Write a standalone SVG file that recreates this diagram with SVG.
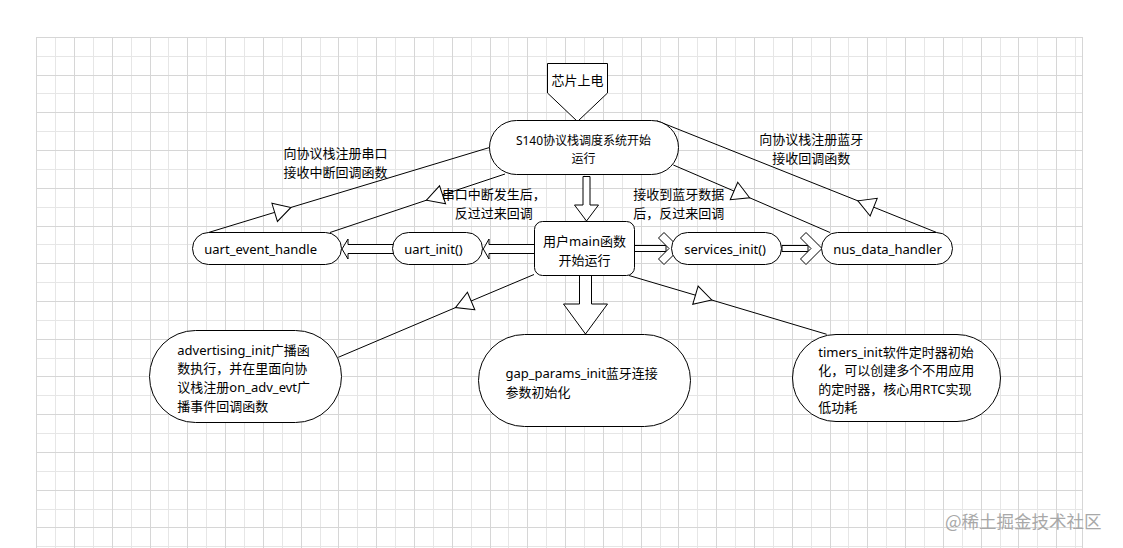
<svg xmlns="http://www.w3.org/2000/svg" width="1123" height="548" viewBox="0 0 1123 548">
<style>
.t{font-family:"Noto Sans","Noto Sans CJK SC",sans-serif;font-size:13px;fill:#000;dominant-baseline:central}
.m{text-anchor:middle}
.n{fill:#fff;stroke:#000;stroke-width:1}
.ln{fill:none;stroke:#000;stroke-width:1;marker-mid:url(#tri)}
.ba{fill:#fff;stroke:#000;stroke-width:1;stroke-linejoin:miter}
</style>
<defs>
<marker id="tri" markerUnits="userSpaceOnUse" markerWidth="24" markerHeight="24" viewBox="-12 -12 24 24" refX="0" refY="0" orient="auto" overflow="visible">
<path d="M-8.5,-9.5 L8.5,0 L-8.5,9.5 Z" fill="#fff" stroke="#000" stroke-width="1"/>
</marker>
</defs>
<rect width="1123" height="548" fill="#fff"/>
<g id="grid" fill="none">
<path stroke="#e6e6e6" d="M55.5 37V548M93.5 37V548M131.5 37V548M168.5 37V548M206.5 37V548M244.5 37V548M282.5 37V548M320.5 37V548M357.5 37V548M395.5 37V548M433.5 37V548M471.5 37V548M508.5 37V548M546.5 37V548M584.5 37V548M622.5 37V548M660.5 37V548M697.5 37V548M735.5 37V548M773.5 37V548M811.5 37V548M848.5 37V548M886.5 37V548M924.5 37V548M962.5 37V548M1000.5 37V548M1037.5 37V548M1075.5 37V548M36.5 56.5H1083M36.5 93.5H1083M36.5 131.5H1083M36.5 169.5H1083M36.5 207.5H1083M36.5 244.5H1083M36.5 282.5H1083M36.5 320.5H1083M36.5 358.5H1083M36.5 395.5H1083M36.5 433.5H1083M36.5 471.5H1083M36.5 509.5H1083M36.5 546.5H1083"/>
<path stroke="#d6d6d6" d="M36.5 37V548M74.5 37V548M112.5 37V548M150.5 37V548M187.5 37V548M225.5 37V548M263.5 37V548M301.5 37V548M338.5 37V548M376.5 37V548M414.5 37V548M452.5 37V548M490.5 37V548M527.5 37V548M565.5 37V548M603.5 37V548M641.5 37V548M678.5 37V548M716.5 37V548M754.5 37V548M792.5 37V548M830.5 37V548M867.5 37V548M905.5 37V548M943.5 37V548M981.5 37V548M1018.5 37V548M1056.5 37V548M1082.5 37V548M36.5 37.5H1083M36.5 75.5H1083M36.5 112.5H1083M36.5 150.5H1083M36.5 188.5H1083M36.5 226.5H1083M36.5 263.5H1083M36.5 301.5H1083M36.5 339.5H1083M36.5 376.5H1083M36.5 414.5H1083M36.5 452.5H1083M36.5 490.5H1083M36.5 527.5H1083"/>
</g>
<g id="connectors">
<polyline class="ln" points="208.5,232.5 282.8,209.9 489.5,147.5"/>
<polyline class="ln" points="505,174 434.5,197.5 330,232.5"/>
<polyline class="ln" points="936.7,232.5 865.8,204 656.7,120.7"/>
<polyline class="ln" points="673.3,165 741.8,194.4 830,232.5"/>
<polyline class="ln" points="534,274.5 463.3,304.3 338.3,357.3"/>
<polyline class="ln" points="629,275.5 703.6,297.6 826.7,334.3"/>
<polygon class="ba" points="583,176.5 590,176.5 590,205 598.5,205 586.5,221 574.5,205 583,205"/>
<polygon class="ba" points="579.5,275.5 591.5,275.5 591.5,304 607.5,304 585.5,334 563.5,304 579.5,304"/>
<polygon class="ba" points="537,244.5 489,244.5 489,239 483.3,249 489,259 489,253.5 537,253.5"/>
<polygon class="ba" points="394,244.5 348,244.5 348,239 342,249 348,259 348,253.5 394,253.5"/>
<rect class="ba" x="634" y="245.5" width="32" height="6"/>
<polygon class="ba" points="658.5,238 664,232.5 680,248.5 664,264.5 658.5,259 669,248.5"/>
<rect class="ba" x="782" y="245.5" width="26" height="6"/>
<polygon class="ba" points="800.5,238 806,232.5 822,248.5 806,264.5 800.5,259 811,248.5"/>
<text class="t" x="283.5" y="152.5">向协议栈注册串口</text>
<text class="t" x="283.5" y="171.5">接收中断回调函数</text>
<text class="t m" x="493.7" y="194">串口中断发生后，</text>
<text class="t m" x="493.7" y="212.7">反过过来回调</text>
<text class="t" x="633.3" y="194">接收到蓝牙数据</text>
<text class="t" x="633.3" y="212.7">后，反过来回调</text>
<text class="t m" x="811.3" y="139">向协议栈注册蓝牙</text>
<text class="t m" x="811.3" y="157.7">接收回调函数</text>
</g>
<g id="power-on">
<polygon class="n" points="547.5,63.5 607.5,63.5 607.5,93 577.5,121.5 547.5,93"/>
<text class="t m" x="577.5" y="79.5">芯片上电</text>
</g>
<g id="s140">
<rect class="n" x="489.5" y="120.5" width="189" height="54" rx="27"/>
<text class="t m" x="583.5" y="140" style="font-size:12px">S140协议栈调度系统开始</text>
<text class="t m" x="583.5" y="158" style="font-size:12px">运行</text>
</g>
<g id="main">
<rect class="n" x="534.5" y="221.5" width="100" height="54" rx="8"/>
<text class="t m" x="584.5" y="241">用户main函数</text>
<text class="t m" x="584.5" y="259.5">开始运行</text>
</g>
<g id="uart_event_handle">
<rect class="n" x="192.5" y="232.5" width="149" height="32" rx="16"/>
<text class="t" x="204.3" y="249">uart_event_handle</text>
</g>
<g id="uart_init">
<rect class="n" x="392.5" y="232.5" width="90" height="32" rx="16"/>
<text class="t" x="404.3" y="249">uart_init()</text>
</g>
<g id="services_init">
<rect class="n" x="671.5" y="232.5" width="110" height="32" rx="16"/>
<text class="t" x="684.3" y="249">services_init()</text>
</g>
<g id="nus_data_handler">
<rect class="n" x="821.5" y="232.5" width="131" height="32" rx="16"/>
<text class="t" x="833.3" y="249">nus_data_handler</text>
</g>
<g id="advertising_init">
<rect class="n" x="149.5" y="330.5" width="192" height="92" rx="46"/>
<text class="t" x="177.3" y="349.5">advertising_init广播函</text>
<text class="t" x="177.3" y="368">数执行，并在里面向协</text>
<text class="t" x="177.3" y="387">议栈注册on_adv_evt广</text>
<text class="t" x="177.3" y="405.5">播事件回调函数</text>
</g>
<g id="gap_params_init">
<rect class="n" x="478.5" y="334.5" width="212" height="92" rx="46"/>
<text class="t" x="505.5" y="373">gap_params_init蓝牙连接</text>
<text class="t" x="505.5" y="391.7">参数初始化</text>
</g>
<g id="timers_init">
<rect class="n" x="792.5" y="334.5" width="208" height="87" rx="43.5"/>
<text class="t" x="818.3" y="351.7">timers_init软件定时器初始</text>
<text class="t" x="818.3" y="370">化，可以创建多个不用应用</text>
<text class="t" x="818.3" y="389">的定时器，核心用RTC实现</text>
<text class="t" x="818.3" y="407.3">低功耗</text>
</g>
<text x="945" y="520" style="font-family:'Noto Sans CJK SC',sans-serif;font-size:17.5px;fill:#a8a8a8;dominant-baseline:central">@稀土掘金技术社区</text>
</svg>
